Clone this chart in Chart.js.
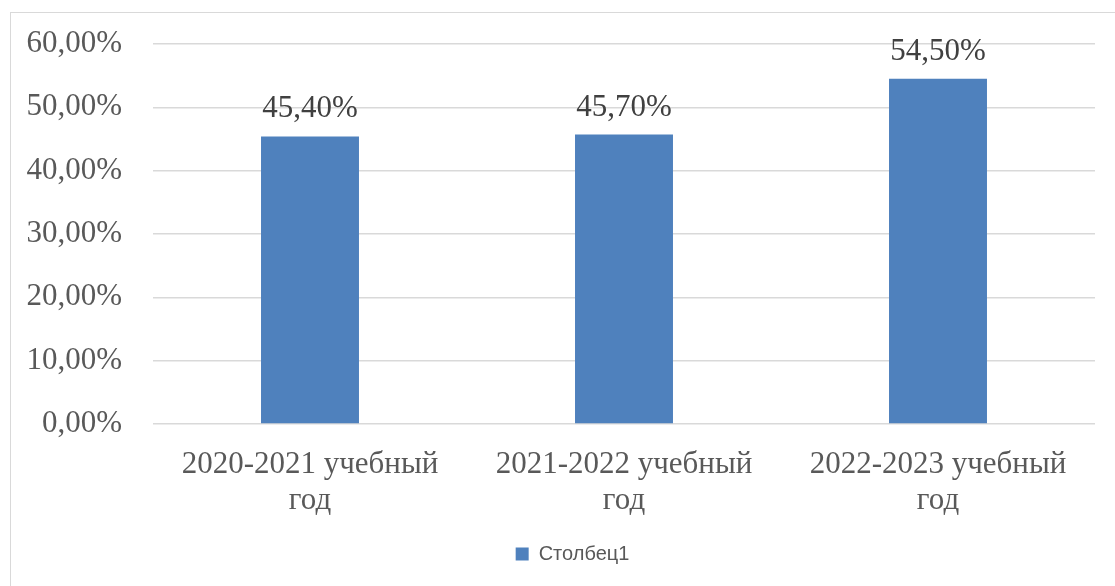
<!DOCTYPE html>
<html lang="ru">
<head>
    <meta charset="UTF-8">
    <title>Chart</title>
    <script src="https://cdn.jsdelivr.net/npm/chart.js@4"></script>
    <style>
        body { margin: 0; background: #fff; }
        .wrap { position: relative; width: 1115px; height: 586px; }
        .frame {
            position: absolute; left: 10px; top: 12px; width: 1105px; height: 580px;
            border-left: 1px solid #d9d9d9; border-top: 1px solid #d9d9d9;
        }
        canvas { position: absolute; left: 0; top: 0; }
    </style>
</head>
<body>
    <div class="wrap">
        <div class="frame"></div>
        <canvas id="myChart" width="1115" height="586"></canvas>
    </div>

    <script>
      // chart data
      const categories = [
        ['2020-2021 учебный', 'год'],
        ['2021-2022 учебный', 'год'],
        ['2022-2023 учебный', 'год']
      ];
      const seriesName = 'Столбец1';
      const seriesValues = [45.4, 45.7, 54.5];
      const yTicks = [0, 10, 20, 30, 40, 50, 60];

      const serif = "'Liberation Serif', 'Times New Roman', serif";

      function pct(v) {
        return v.toFixed(2).replace('.', ',') + '%';
      }

      // value labels above the bars
      const barLabels = {
        id: 'barLabels',
        afterLayout(chart) {
          // legend sits a bit right of the canvas centre in the original
          chart.legend.left += 25;
          chart.legend.right += 25;
        },
        afterDatasetsDraw(chart) {
          const ctx = chart.ctx;
          const meta = chart.getDatasetMeta(0);
          ctx.save();
          ctx.font = '31px ' + serif;
          ctx.fillStyle = '#404040';
          ctx.textAlign = 'center';
          ctx.textBaseline = 'alphabetic';
          meta.data.forEach((bar, i) => {
            ctx.fillText(pct(seriesValues[i]), bar.x, bar.y - 19);
          });
          ctx.restore();
        }
      };

      const ctx = document.getElementById('myChart').getContext('2d');
      new Chart(ctx, {
        type: 'bar',
        data: {
          labels: categories,
          datasets: [{
            label: seriesName,
            data: seriesValues,
            backgroundColor: '#4f81bd',
            borderWidth: 0,
            categoryPercentage: 1,
            barPercentage: 0.312
          }]
        },
        options: {
          responsive: false,
          animation: false,
          layout: { padding: { left: 0, right: 20, top: 44, bottom: 12 } },
          plugins: {
            tooltip: { enabled: false },
            legend: {
              position: 'bottom',
              labels: {
                boxWidth: 13,
                boxHeight: 13,
                padding: 10,
                color: '#595959',
                font: { family: "'Liberation Sans', Arial, sans-serif", size: 20 }
              }
            }
          },
          scales: {
            y: {
              min: 0,
              max: 60,
              afterBuildTicks(scale) {
                scale.ticks = yTicks.map(v => ({ value: v }));
              },
              afterFit(scale) {
                scale.width = 153;
                scale.paddingTop = 0;
                scale.paddingBottom = 0;
              },
              border: { display: false },
              grid: { color: '#d9d9d9', lineWidth: 1.5, drawTicks: false },
              ticks: {
                padding: 31,
                color: '#595959',
                font: { family: serif, size: 31 },
                callback: v => pct(v)
              }
            },
            x: {
              afterFit(scale) { scale.height = 110; },
              border: { display: false },
              grid: { display: false, drawTicks: false },
              ticks: {
                padding: 23,
                color: '#595959',
                maxRotation: 0,
                font: { family: serif, size: 31, lineHeight: 1.15 }
              }
            }
          }
        },
        plugins: [barLabels]
      });
    </script>
</body>
</html>
